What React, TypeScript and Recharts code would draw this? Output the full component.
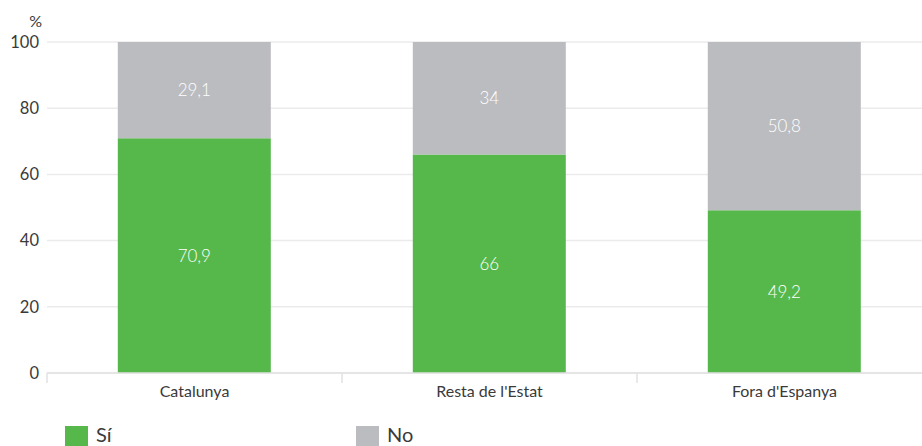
import {
  Bar,
  BarChart,
  CartesianGrid,
  LabelList,
  Legend,
  XAxis,
  YAxis,
} from 'recharts';

const categories = ['Catalunya', "Resta de l'Estat", "Fora d'Espanya"];
const siValues = [70.9, 66, 49.2];
const noValues = [29.1, 34, 50.8];
const yTicks = [0, 20, 40, 60, 80, 100];

const GREEN = '#56b84b';
const GREY = '#bbbcc0';
const GRID = '#ebebeb';
const AXIS = '#e2e2e2';
const TEXT = '#3a3a3a';
const FONT = 'Lato, "Open Sans", sans-serif';

const data = categories.map((name, i) => ({
  name,
  si: siValues[i],
  no: noValues[i],
}));

const fmt = (v: unknown) => String(v).replace('.', ',');

// category label plus a small boundary tick on each side of the band
function CategoryTick(props: any) {
  const { x, y, payload, index, visibleTicksCount } = props;
  const half = payload?.offset ?? 0;
  const top = y - 10;
  return (
    <g>
      <line x1={x - half} x2={x - half} y1={top} y2={top + 10} stroke={AXIS} strokeWidth={1.5} />
      {index === visibleTicksCount - 1 && (
        <line x1={x + half} x2={x + half} y1={top} y2={top + 10} stroke={AXIS} strokeWidth={1.5} />
      )}
      <text x={x} y={y + 14} textAnchor="middle" fontSize={16} fill={TEXT} fontFamily={FONT}>
        {payload.value}
      </text>
    </g>
  );
}

function LegendBox() {
  const items = [
    { label: 'Sí', color: GREEN },
    { label: 'No', color: GREY },
  ];
  return (
    <div style={{ height: 33, overflow: 'visible', fontFamily: FONT }}>
      <div style={{ display: 'flex', paddingLeft: 65, paddingTop: 13 }}>
        {items.map((it) => (
          <div
            key={it.label}
            style={{ display: 'flex', alignItems: 'flex-start', width: 291, height: 18 }}
          >
            <span style={{ width: 23, height: 23, background: it.color, marginRight: 8 }} />
            <span style={{ fontSize: 20, lineHeight: '18px', marginTop: -1, color: TEXT }}>
              {it.label}
            </span>
          </div>
        ))}
      </div>
    </div>
  );
}

export default function App() {
  return (
    <div
      style={{
        position: 'absolute',
        left: 0,
        top: 0,
        width: 922,
        height: 446,
        overflow: 'hidden',
        background: '#fff',
      }}
    >
      <BarChart
        width={940}
        height={446}
        data={data}
        margin={{ top: 42, right: 8, bottom: 0, left: 0 }}
        barCategoryGap="24%"
      >
        <CartesianGrid stroke={GRID} strokeWidth={1.5} vertical={false} />
        <XAxis
          dataKey="name"
          axisLine={{ stroke: AXIS, strokeWidth: 1.5 }}
          tickLine={false}
          tick={<CategoryTick />}
          tickSize={0}
          tickMargin={10}
          height={40}
        />
        <YAxis
          width={47}
          domain={[0, 100]}
          ticks={yTicks}
          axisLine={false}
          tickLine={false}
          tick={{ fontSize: 16.5, fill: TEXT, fontFamily: FONT }}
          label={{
            content: (props: any) => {
              const vb = props.viewBox || {};
              return (
                <text
                  x={vb.x + vb.width - 5}
                  y={vb.y - 15}
                  textAnchor="end"
                  fontSize={16}
                  fill={TEXT}
                  fontFamily={FONT}
                >
                  %
                </text>
              );
            },
          }}
        />
        <Legend
          verticalAlign="bottom"
          align="left"
          height={33}
          wrapperStyle={{ left: 0, width: 922 }}
          content={() => <LegendBox />}
        />
        <Bar dataKey="si" stackId="a" fill={GREEN} isAnimationActive={false}>
          <LabelList
            dataKey="si"
            position="center"
            formatter={fmt}
            fill="#ffffff"
            fontSize={17}
            fontWeight={300}
            fontFamily={FONT}
          />
        </Bar>
        <Bar dataKey="no" stackId="a" fill={GREY} isAnimationActive={false}>
          <LabelList
            dataKey="no"
            position="center"
            formatter={fmt}
            fill="#ffffff"
            fontSize={17}
            fontWeight={300}
            fontFamily={FONT}
          />
        </Bar>
      </BarChart>
    </div>
  );
}
